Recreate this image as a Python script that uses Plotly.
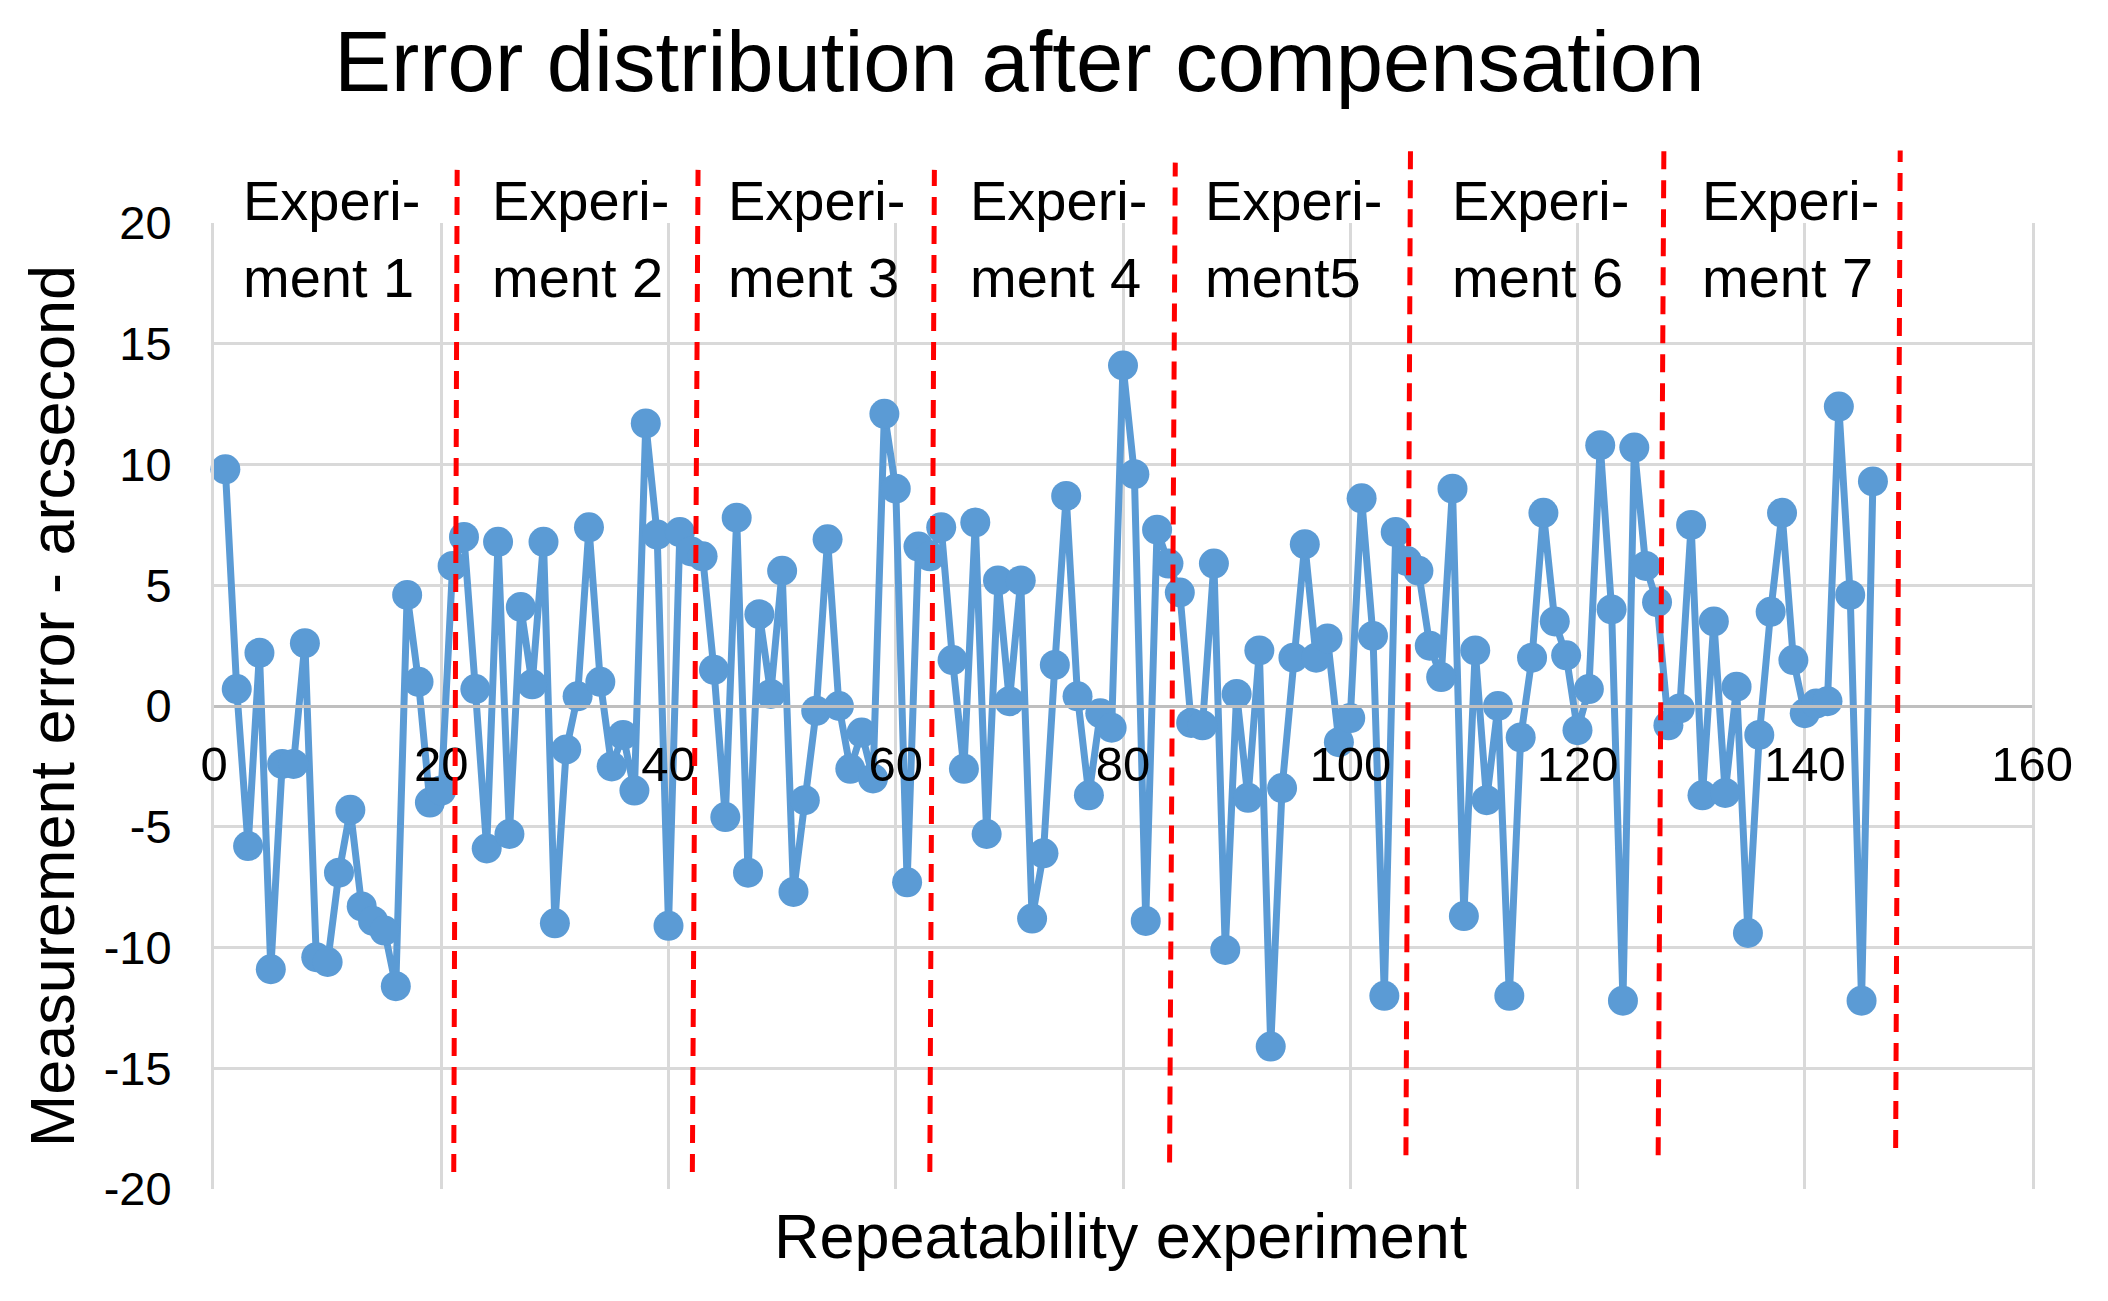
import plotly.graph_objects as go

# ---- data -------------------------------------------------------------
trial_index = list(range(1, 147))
error_arcsec = [
    9.8, 0.7, -5.8, 2.2, -10.9, -2.4, -2.4, 2.6, -10.4, -10.6,
    -6.9, -4.3, -8.3, -8.9, -9.3, -11.6, 4.6, 1.0, -4.0, -3.5,
    5.8, 7.0, 0.7, -5.9, 6.8, -5.3, 4.1, 0.9, 6.8, -9.0,
    -1.8, 0.4, 7.4, 1.0, -2.5, -1.2, -3.5, 11.7, 7.1, -9.1,
    7.2, 6.4, 6.2, 1.5, -4.6, 7.8, -6.9, 3.8, 0.5, 5.6,
    -7.7, -3.9, -0.2, 6.9, 0.0, -2.6, -1.1, -3.0, 12.1, 9.0,
    -7.3, 6.6, 6.2, 7.4, 1.9, -2.6, 7.6, -5.3, 5.2, 0.2,
    5.2, -8.8, -6.1, 1.7, 8.7, 0.4, -3.7, -0.3, -0.9, 14.1,
    9.6, -8.9, 7.3, 5.9, 4.7, -0.7, -0.8, 5.9, -10.1, 0.5,
    -3.8, 2.3, -14.1, -3.4, 2.0, 6.7, 2.0, 2.8, -1.5, -0.5,
    8.6, 2.9, -12.0, 7.2, 6.0, 5.6, 2.5, 1.2, 9.0, -8.7,
    2.3, -3.9, 0.0, -12.0, -1.3, 2.0, 8.0, 3.5, 2.1, -1.0,
    0.7, 10.8, 4.0, -12.2, 10.7, 5.8, 4.3, -0.8, -0.1, 7.5,
    -3.7, 3.5, -3.6, 0.8, -9.4, -1.2, 3.9, 8.0, 1.9, -0.3,
    0.1, 0.2, 12.4, 4.6, -12.2, 9.3,
]

experiment_names = ["ment 1", "ment 2", "ment 3", "ment 4", "ment5", "ment 6", "ment 7"]
x_ticks = [0, 20, 40, 60, 80, 100, 120, 140, 160]
y_ticks = [-20, -15, -10, -5, 0, 5, 10, 15, 20]

# separator lines (bottom x, top x, bottom y, top y in data units)
sep_bottom_x = [21.1, 42.1, 63.0, 84.1, 104.9, 127.1, 148.0]
sep_top_x = [21.4, 42.6, 63.4, 84.6, 105.3, 127.6, 148.4]
sep_bottom_y = [-19.3, -19.3, -19.3, -18.9, -18.6, -18.6, -18.3]
sep_top_y = [22.2, 22.2, 22.2, 22.5, 23.0, 23.0, 23.0]

# experiment label left positions (data x)
label_x = [2.4, 24.3, 45.1, 66.4, 87.0, 108.8, 130.8]

BLUE = "#5B9BD5"
GRID = "#D9D9D9"
FONT = "Liberation Sans"

fig = go.Figure()
fig.add_trace(go.Scatter(
    x=trial_index, y=error_arcsec, mode="lines+markers",
    line=dict(color=BLUE, width=7),
    marker=dict(color=BLUE, size=30),
    showlegend=False, cliponaxis=False,
))

def to_paper(v):
    return (v + 20) / 40.0

shapes = []
for xb, xt, yb, yt in zip(sep_bottom_x, sep_top_x, sep_bottom_y, sep_top_y):
    shapes.append(dict(
        type="line", xref="x", yref="paper",
        x0=xb, x1=xt, y0=to_paper(yb), y1=to_paper(yt),
        line=dict(color="#FF0000", width=5, dash="18px,11px"),
        layer="above",
    ))

annotations = []
for lx, name in zip(label_x, experiment_names):
    annotations.append(dict(x=lx, y=to_paper(20.95), xref="x", yref="paper", text="Experi-",
                            showarrow=False, xanchor="left", yanchor="middle",
                            font=dict(family=FONT, size=56, color="#000000")))
    annotations.append(dict(x=lx, y=to_paper(17.75), xref="x", yref="paper", text=name,
                            showarrow=False, xanchor="left", yanchor="middle",
                            font=dict(family=FONT, size=56, color="#000000")))

annotations.append(dict(x=0.499, y=-0.049, xref="paper", yref="paper",
                        text="Repeatability experiment", showarrow=False,
                        xanchor="center", yanchor="middle",
                        font=dict(family=FONT, size=63, color="#000000")))
annotations.append(dict(x=-0.089, y=0.5, xref="paper", yref="paper",
                        text="Measurement error - arcsecond", showarrow=False,
                        textangle=-90, xanchor="center", yanchor="middle",
                        font=dict(family=FONT, size=63, color="#000000")))

fig.update_layout(
    width=2108, height=1301,
    margin=dict(l=214, r=76, t=223, b=112),
    paper_bgcolor="white", plot_bgcolor="white",
    title=dict(text="Error distribution after compensation",
               x=0.443, xref="paper", xanchor="center",
               y=0.953, yref="container", yanchor="middle",
               font=dict(family=FONT, size=85, color="#000000")),
    xaxis=dict(range=[0, 160], tickvals=x_ticks, ticktext=[str(v) for v in x_ticks],
               showgrid=True, gridcolor=GRID, gridwidth=3,
               zeroline=False, showline=True, linecolor="#BFBFBF", linewidth=3,
               anchor="free", position=0.5, ticks="", ticklabelstandoff=14,
               tickfont=dict(family=FONT, size=49, color="#000000")),
    yaxis=dict(range=[-20, 20], tickvals=y_ticks, ticktext=[str(v) for v in y_ticks],
               showgrid=True, gridcolor=GRID, gridwidth=3,
               zeroline=False, showline=True, mirror=True, linecolor=GRID, linewidth=3,
               ticks="", ticklabelstandoff=30,
               tickfont=dict(family=FONT, size=47, color="#000000")),
    shapes=shapes,
    annotations=annotations,
)

fig.write_html("out.html", config={"displayModeBar": False},
               post_script="document.body.style.margin='0';")
